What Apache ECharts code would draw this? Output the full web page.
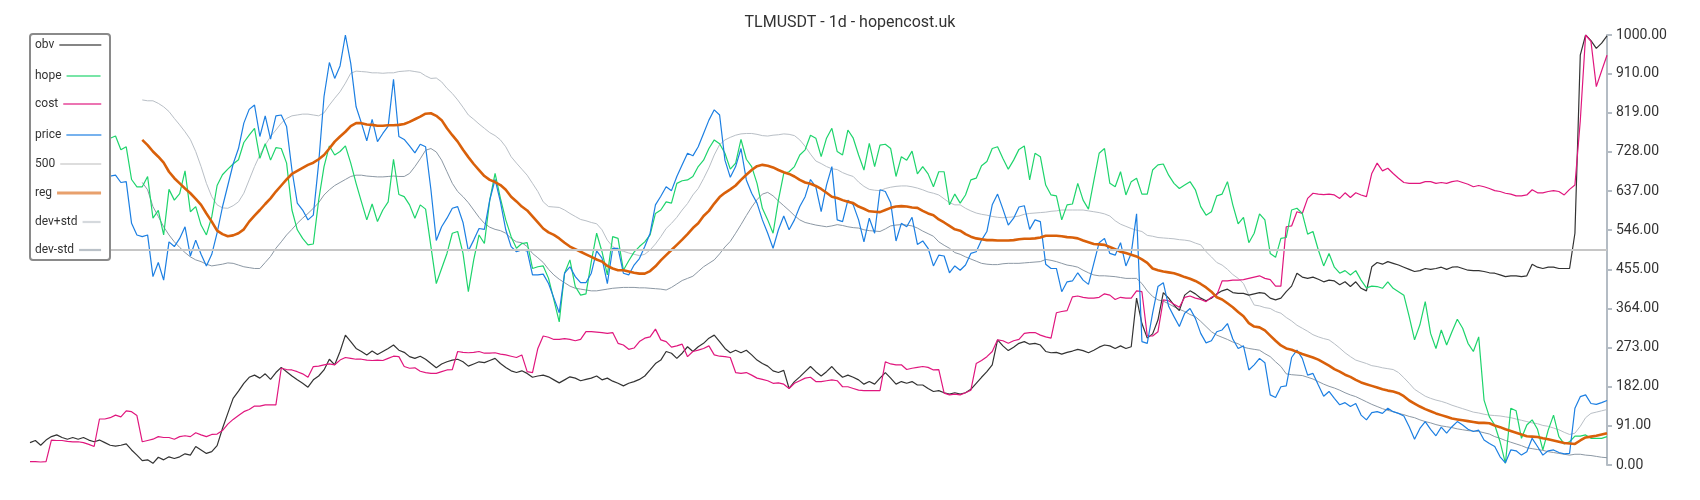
<!DOCTYPE html>
<html><head><meta charset="utf-8">
<script src="https://cdn.jsdelivr.net/npm/echarts/dist/echarts.min.js"></script>
<style>html,body{margin:0;padding:0;background:#fff}#c{width:1700px;height:500px}</style>
</head><body><div id="c"></div><script>
const titleText = 'TLMUSDT - 1d - hopencost.uk';
const threshold = 500;
const obv = [
52,57,46,58,66,70,64,60,64,60,
64,58,54,58,52,46,44,46,49,35,
23,10,12,4,18,12,19,15,19,26,
23,43,35,27,31,45,85,120,155,172,
190,204,209,202,212,199,215,227,217,207,
198,190,181,198,207,221,246,233,264,302,
287,271,264,256,265,257,264,271,279,267,
262,252,248,253,246,236,226,235,240,244,
246,240,230,235,240,238,243,248,236,227,
219,215,219,213,204,207,209,205,198,191,
198,205,202,196,199,202,207,198,202,195,
190,184,190,194,199,207,221,236,244,264,
260,248,260,275,264,275,283,295,302,287,
271,261,267,261,267,256,244,236,230,219,
215,220,178,194,205,217,229,217,207,217,
229,215,204,209,204,198,188,194,188,202,
215,202,188,194,190,194,186,186,178,171,
173,168,165,168,165,168,176,190,204,217,
233,291,277,266,274,283,287,281,283,279,
264,261,262,258,262,265,269,266,261,267,
274,279,277,271,277,271,275,388,329,295,
305,337,401,388,372,359,395,405,398,388,
382,388,398,405,409,401,399,399,395,398,
401,399,388,384,388,403,416,446,437,434,
437,432,426,430,428,419,426,415,426,411,
405,461,471,467,473,469,465,460,455,450,
452,457,455,457,460,455,460,461,457,453,
452,452,450,447,446,442,438,440,440,438,
440,467,460,457,460,460,457,457,457,539,
953,1000,987,969,981,998];
const hope = [
760,765,758,770,762,768,760,765,770,762,
766,760,768,764,762,760,765,733,740,664,
647,647,671,574,592,535,641,616,631,684,
589,601,558,535,577,650,675,688,700,710,
750,767,783,713,747,709,738,736,702,593,
547,527,512,514,616,694,742,721,729,742,
702,655,612,570,607,566,593,612,711,629,
624,605,574,605,595,508,422,457,492,539,
543,492,403,477,535,515,616,678,620,570,
531,504,515,517,457,461,463,434,384,333,
446,477,415,395,398,473,539,496,442,531,
527,453,475,495,508,519,535,585,593,612,
609,655,661,663,671,694,709,736,756,747,
725,688,702,757,711,694,655,597,570,539,
616,678,682,694,721,733,767,760,717,760,
783,729,721,779,760,721,686,748,694,744,
746,736,671,717,709,730,677,694,677,647,
682,682,605,630,609,628,663,667,696,706,
736,740,713,688,709,734,742,663,725,717,
651,628,626,570,605,607,655,616,595,661,
725,736,655,647,682,628,659,667,630,630,
686,698,700,674,655,643,651,659,640,601,
581,589,626,630,659,605,561,576,517,539,
584,570,492,483,527,529,593,597,585,537,
543,500,463,492,460,446,452,442,452,430,
412,416,415,411,426,411,403,395,345,291,
326,380,306,271,314,279,310,339,318,283,
264,298,151,112,93,54,4,132,126,62,
93,105,83,35,81,116,66,49,54,67,
67,70,62,62,62,66];
const cost = [
8,8,7,8,58,57,57,55,54,54,
52,48,43,107,107,110,116,112,126,124,
115,54,57,60,66,64,64,60,66,68,
66,75,70,66,71,72,80,95,106,115,
124,129,137,137,140,140,140,225,222,221,
217,212,204,229,230,233,235,233,244,250,
248,246,246,244,243,244,243,248,253,252,
229,225,226,218,215,213,213,217,221,222,
264,262,261,262,264,260,260,261,258,256,
253,250,256,217,215,271,300,297,292,292,
294,292,289,292,310,310,309,308,306,308,
283,279,269,272,287,295,298,316,291,287,
274,277,281,252,264,267,271,277,256,253,
252,250,215,213,215,209,202,199,196,190,
191,188,178,190,196,202,204,194,194,196,
198,196,182,182,178,174,173,173,173,173,
240,235,233,233,222,225,227,229,227,221,
222,167,163,165,163,168,174,236,243,252,
264,291,289,283,289,292,306,308,308,302,
298,295,354,357,359,391,393,390,388,388,
390,398,395,385,390,388,388,405,403,300,
300,310,384,382,374,367,390,393,388,385,
380,390,395,428,428,430,430,431,434,437,
440,434,431,416,416,554,556,589,585,620,
632,630,629,630,628,620,633,622,633,628,
624,678,702,684,690,678,667,657,655,655,
655,659,659,655,657,655,659,661,657,653,
647,650,647,643,638,636,632,630,626,626,
628,640,633,633,636,638,636,628,641,651,
800,1000,985,880,917,953];
const price = [
670,672,668,675,670,665,672,668,670,674,
668,672,670,666,670,672,674,657,659,562,
535,531,535,438,471,430,519,508,527,554,
486,523,490,463,490,540,600,650,700,736,
795,827,837,764,812,758,812,814,787,686,
609,593,570,581,702,857,936,899,928,1000,
934,833,795,754,804,752,771,788,897,764,
757,742,726,746,740,640,522,554,574,597,
601,564,498,523,550,548,616,664,612,547,
508,496,500,498,442,442,444,422,388,354,
446,461,438,424,424,446,498,481,422,504,
504,446,442,465,480,508,539,605,625,647,
638,671,698,725,719,740,771,802,826,814,
709,669,694,736,663,632,609,570,539,504,
547,579,547,570,601,624,664,647,589,651,
694,570,566,616,605,570,519,574,539,640,
636,610,521,562,554,576,513,521,504,463,
488,486,447,463,453,465,492,496,523,543,
605,630,595,558,574,600,603,548,570,566,
467,457,457,403,426,428,447,430,420,469,
517,527,492,488,517,463,492,584,287,283,
353,415,424,369,345,322,353,364,341,306,
284,289,310,314,329,293,271,277,221,233,
248,238,163,157,182,184,250,267,248,209,
213,186,160,171,155,140,145,136,143,116,
105,122,124,120,132,124,120,114,89,60,
85,101,83,68,88,74,89,101,93,83,
78,81,58,50,43,19,5,35,33,23,
31,62,43,23,33,35,29,26,27,132,
159,163,143,141,145,150];
const reg = [
null,null,null,null,null,null,null,null,null,null,
null,null,null,null,null,null,null,null,null,null,
null,756,744,729,717,703,682,667,655,643,
632,619,605,585,566,545,537,532,534,539,
548,566,580,593,607,620,636,650,664,677,
684,691,698,703,711,721,736,752,764,775,
788,795,795,792,791,789,789,790,790,791,
793,798,804,810,817,818,812,802,783,767,
752,733,716,700,686,672,663,658,651,640,
624,613,601,592,578,564,550,541,535,527,
517,508,502,496,490,484,478,473,463,457,
453,453,450,447,445,445,451,462,476,488,
500,512,524,537,551,562,579,591,608,623,
633,641,650,663,675,686,695,698,696,692,
686,681,677,671,663,657,654,649,642,633,
624,621,616,612,609,601,596,590,589,588,
593,598,601,602,601,599,598,591,585,581,
571,564,556,548,545,537,531,527,525,523,
523,522,522,522,523,525,526,526,527,529,
533,533,533,532,530,529,527,522,518,514,
513,512,507,502,496,493,489,485,478,470,
457,453,450,448,446,442,437,433,428,421,
413,403,390,385,376,367,356,346,330,322,
320,313,301,289,278,271,268,263,258,254,
250,245,238,231,223,217,210,205,198,192,
188,184,180,176,173,171,167,160,150,143,
136,130,125,120,116,112,108,106,104,102,
100,98,98,97,92,88,83,79,75,71,
67,66,65,62,60,57,54,51,50,49,
57,64,66,68,71,74];
const devPlus = [
null,null,null,null,null,null,null,null,null,null,
null,null,null,null,null,null,null,null,null,null,
null,849,847,847,841,833,822,806,791,775,
757,729,694,655,624,605,598,597,603,612,
632,663,694,721,744,764,779,795,806,812,
814,816,816,814,812,819,837,853,868,888,
911,916,915,914,912,912,911,912,912,915,
916,917,915,913,905,899,900,891,876,864,
849,832,814,804,793,783,773,766,756,740,
717,702,688,674,655,636,612,601,600,599,
593,585,578,571,568,564,561,547,523,508,
500,497,493,490,487,490,500,514,531,550,
562,576,593,608,628,643,666,691,721,745,
756,762,767,770,771,771,769,766,765,767,
768,770,769,766,756,741,723,707,701,694,
689,687,680,675,671,658,648,641,639,638,
643,646,648,649,649,647,644,640,635,632,
628,619,610,605,605,597,591,586,583,581,
578,576,575,576,577,579,583,585,586,587,
588,590,591,593,593,593,593,593,591,589,
587,584,579,568,560,555,550,546,543,534,
532,529,528,527,526,524,523,521,516,512,
496,484,471,465,455,443,434,422,395,372,
370,366,364,357,353,343,335,325,318,311,
303,298,294,291,282,272,261,252,244,240,
236,231,229,226,224,222,215,203,190,176,
168,160,155,151,148,144,139,135,131,127,
123,121,118,116,115,114,112,110,107,104,
101,98,96,92,90,86,82,76,71,74,
90,110,120,123,126,129];
const devMinus = [
null,null,null,null,null,null,null,null,null,null,
null,null,null,null,null,null,null,null,null,null,
null,657,640,601,578,554,535,519,506,494,
484,477,473,467,463,465,467,470,469,465,
461,459,457,457,471,485,504,519,535,548,
562,574,585,597,610,628,640,650,657,664,
671,674,674,672,671,670,670,671,672,671,
671,678,694,712,732,736,728,709,682,655,
636,624,610,593,576,562,553,548,545,539,
527,519,517,508,492,482,471,455,442,432,
424,416,411,409,407,405,405,407,409,411,
412,413,413,413,412,412,411,410,409,407,
413,421,429,434,439,450,461,469,477,491,
507,520,539,559,580,600,617,630,634,626,
614,603,592,580,570,564,561,558,556,554,
556,559,557,554,552,551,547,545,544,543,
549,556,558,559,558,556,551,544,538,532,
519,511,504,494,490,484,479,474,469,467,
466,466,468,469,469,469,470,471,472,473,
478,476,473,469,465,463,460,453,447,442,
440,440,439,438,436,434,434,434,422,405,
392,384,381,375,368,362,357,350,345,334,
322,310,302,297,292,286,282,274,271,269,
267,259,252,240,229,212,210,209,208,204,
200,194,188,183,179,174,168,163,159,153,
147,141,136,131,127,124,120,117,113,110,
105,101,98,94,91,89,87,84,82,80,
79,78,75,72,66,62,57,53,49,45,
40,38,36,34,31,29,27,25,23,25,
25,23,22,20,18,17];
const categories = obv.map((_, i) => String(i));
const legendNames = ['obv','hope','cost','price','500','reg','dev+std','dev-std'];
const colors = {obv:'#333333', hope:'#1ed46c', cost:'#e0177e', price:'#1c7fe2', '500':'#c6c6c6', reg:'#d9600a', 'dev+std':'#b9bfc6', 'dev-std':'#8c98a4'};
const widths = {obv:1.2, hope:1.2, cost:1.2, price:1.2, '500':2, reg:2.6, 'dev+std':1, 'dev-std':1};
const legendY = [45, 76, 104, 135, 164, 193, 222, 250];

const FONT = 'Roboto, "Noto Sans", sans-serif';
const cvs = document.createElement('canvas').getContext('2d');
cvs.font = '12px Roboto';

function mk(name, data, z) {
  return {name, type:'line', data, symbol:'none', showSymbol:false, z,
    lineStyle:{color:colors[name], width:widths[name]}, itemStyle:{color:colors[name]},
    emphasis:{disabled:true}, animation:false};
}
const series = [
  mk('dev+std', devPlus, 2), mk('dev-std', devMinus, 2),
  mk('obv', obv, 3), mk('cost', cost, 3), mk('hope', hope, 3), mk('price', price, 3),
  {name:'500', type:'line', data:[], symbol:'none', z:2,
   lineStyle:{color:colors['500'], width:2}, itemStyle:{color:colors['500']},
   markLine:{silent:true, symbol:'none', animation:false, label:{show:false},
     lineStyle:{color:colors['500'], width:2, type:'solid'}, data:[{yAxis:threshold}]}},
  mk('reg', reg, 4)
];

const legends = legendNames.map((n, k) => {
  const tw = cvs.measureText(n).width;
  const iw = Math.max(12, Math.round(101 - 35 - tw - 5));
  const ih = n === 'reg' ? 3 : 2.2;
  return {data:[{name:n, icon:'rect'}], left:35, top:legendY[k]-8, orient:'vertical', align:'right', padding:0,
    itemWidth:iw, itemHeight:ih, z:20, selectedMode:false,
    itemStyle:{opacity:0.6, borderWidth:0},
    textStyle:{fontSize:12, color:'#333', fontFamily:FONT, lineHeight:16}};
});

const chart = echarts.init(document.getElementById('c'), null, {renderer:'canvas'});
chart.setOption({
  animation:false,
  backgroundColor:'#ffffff',
  title:{text:titleText, left:'center', top:10, textStyle:{fontSize:16, fontWeight:'normal', color:'#333', fontFamily:FONT}},
  grid:{left:30, right:93, top:35, bottom:35},
  xAxis:{type:'category', data:categories, boundaryGap:false, show:false},
  yAxis:{type:'value', position:'right', min:0, max:1000, interval:91,
    splitLine:{show:false},
    axisLine:{show:true, lineStyle:{color:'#b4bcc4', width:2}},
    axisTick:{show:true, length:5, lineStyle:{color:'#b4bcc4', width:2}},
    axisLabel:{formatter:v => v.toFixed(2), color:'#333', fontSize:14, fontFamily:FONT, margin:9}},
  legend:legends,
  graphic:[{type:'rect', z:10, shape:{x:30, y:34, width:80, height:226, r:3},
    style:{fill:'#fff', stroke:'#8a8a8a', lineWidth:2}}],
  series
});
</script></body></html>
